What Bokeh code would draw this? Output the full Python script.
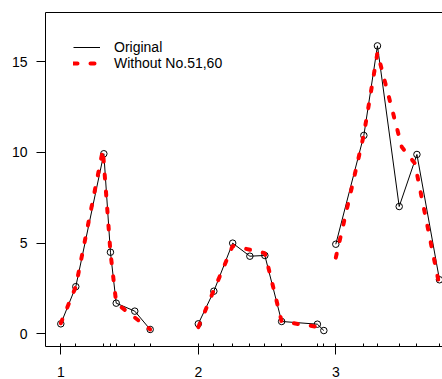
import math
from bokeh.plotting import figure
from bokeh.models import Range1d, FixedTicker, LinearAxis, Legend, LegendItem, ColumnDataSource
from bokeh.embed import file_html
from bokeh.resources import INLINE

# Original series (three groups)
orig_x1 = [1.0, 1.109, 1.313, 1.361, 1.403, 1.538, 1.650]
orig_y1 = [0.55, 2.6, 9.93, 4.5, 1.69, 1.25, 0.24]
orig_x2 = [2.0, 2.113, 2.250, 2.375, 2.484, 2.606, 2.866, 2.913]
orig_y2 = [0.55, 2.35, 5.0, 4.28, 4.32, 0.68, 0.53, 0.18]
orig_x3 = [3.0, 3.204, 3.303, 3.461, 3.590, 3.754]
orig_y3 = [4.94, 10.94, 15.88, 7.02, 9.89, 2.98]

# Without No.51,60
red_x1 = [1.0, 1.109, 1.306, 1.361, 1.403, 1.650]
red_y1 = [0.58, 2.6, 10.15, 4.5, 1.69, 0.24]
red_x2 = [2.0, 2.113, 2.250, 2.484, 2.606, 2.870]
red_y2 = [0.37, 2.4, 4.85, 4.45, 0.68, 0.38]
red_x3 = [3.0, 3.203, 3.303, 3.480, 3.575, 3.745]
red_y3 = [4.2, 10.95, 15.5, 10.3, 9.4, 2.98]

x_ticks = [1, 2, 3]
y_ticks = [0, 5, 10, 15]

nan = float("nan")
ox = orig_x1 + [nan] + orig_x2 + [nan] + orig_x3
oy = orig_y1 + [nan] + orig_y2 + [nan] + orig_y3
rx = red_x1 + [nan] + red_x2 + [nan] + red_x3
ry = red_y1 + [nan] + red_y2 + [nan] + red_y3
rug = orig_x1 + orig_x2 + orig_x3

FONT = "Liberation Sans"

p = figure(width=442, height=379, output_backend="svg", toolbar_location=None,
           x_range=Range1d(0.8887, 3.776), y_range=Range1d(-0.70, 17.72),
           min_border_left=45, min_border_right=0, min_border_top=12, min_border_bottom=33,
           x_axis_type=None, y_axis_type=None)
p.grid.visible = False
p.outline_line_color = None
p.background_fill_color = "white"
p.border_fill_color = "white"

xaxis = LinearAxis(ticker=FixedTicker(ticks=x_ticks, minor_ticks=rug))
xaxis.axis_line_color = "black"
xaxis.major_tick_in = 0
xaxis.major_tick_out = 8
xaxis.minor_tick_in = 3
xaxis.minor_tick_out = 0
xaxis.major_tick_line_color = "black"
xaxis.minor_tick_line_color = "black"
xaxis.major_label_text_font = FONT
xaxis.major_label_text_font_size = "14px"
xaxis.major_label_text_color = "black"
xaxis.major_label_standoff = 12
p.add_layout(xaxis, "below")

yaxis = LinearAxis(ticker=FixedTicker(ticks=y_ticks, minor_ticks=[]))
yaxis.axis_line_color = "black"
yaxis.major_tick_in = 0
yaxis.major_tick_out = 9
yaxis.minor_tick_line_color = None
yaxis.major_tick_line_color = "black"
yaxis.major_label_text_font = FONT
yaxis.major_label_text_font_size = "14px"
yaxis.major_label_text_color = "black"
yaxis.major_label_standoff = 9
p.add_layout(yaxis, "left")

top = LinearAxis(ticker=FixedTicker(ticks=[], minor_ticks=[]))
top.axis_line_color = "black"
top.major_tick_line_color = None
top.minor_tick_line_color = None
top.major_label_text_font_size = "0px"
top.major_label_standoff = 0
p.add_layout(top, "above")

src_o = ColumnDataSource(dict(x=ox, y=oy))
src_r = ColumnDataSource(dict(x=rx, y=ry))

l_orig = p.line("x", "y", source=src_o, line_color="black", line_width=1)
p.scatter("x", "y", source=src_o, marker="circle", size=6.5, fill_color=None,
          line_color="black", line_width=1)
l_red = p.line("x", "y", source=src_r, line_color="red", line_width=4,
               line_dash="4 13", line_cap="round")

legend = Legend(items=[LegendItem(label="Original", renderers=[l_orig]),
                       LegendItem(label="Without No.51,60", renderers=[l_red])],
                location=(28, 275))
legend.padding = 0
legend.margin = 0
legend.spacing = 0
legend.border_line_color = None
legend.background_fill_alpha = 0
legend.glyph_width = 27
legend.glyph_height = 16
legend.label_height = 16
legend.label_standoff = 14
legend.label_text_font = FONT
legend.label_text_font_size = "14px"
legend.label_text_color = "black"
p.add_layout(legend, "center")

open("out.html", "w").write(file_html(p, INLINE))
